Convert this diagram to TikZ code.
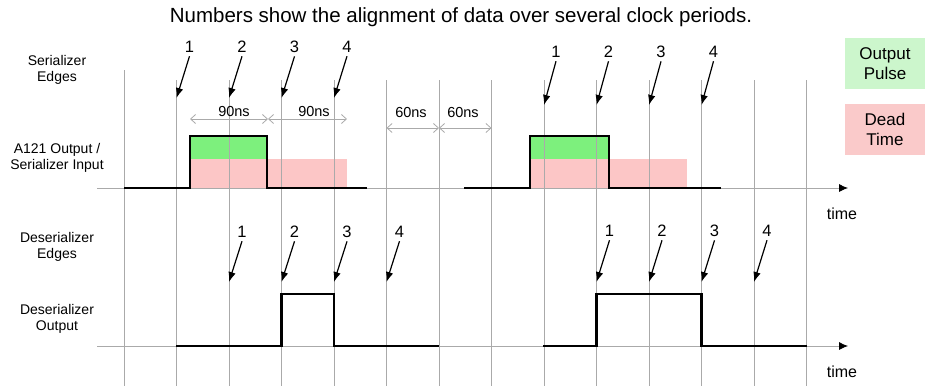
\documentclass[tikz,border=0pt]{standalone}
\usepackage{fontspec}
\setmainfont{Liberation Sans}
\usetikzlibrary{arrows.meta}
\definecolor{pulsegreen}{RGB}{125,240,125}
\definecolor{deadpink}{RGB}{252,198,198}
\definecolor{keygreen}{RGB}{204,246,204}
\definecolor{keypink}{RGB}{250,202,202}
\definecolor{gridgray}{RGB}{170,170,170}
\tikzset{
  gridline/.style={draw=gridgray, line width=0.8pt},
  timeaxis/.style={draw=gridgray, line width=0.8pt, -{Latex[black,length=9pt,width=8pt]}},
  signal/.style={line width=2.4pt, line join=miter},
  edgearrow/.style={line width=1.2pt, -{Latex[length=10pt,width=7.5pt]}},
  dimline/.style={draw=gridgray, line width=0.8pt,
    {Straight Barb[length=5pt,width=9pt]}-{Straight Barb[length=5pt,width=9pt]}},
  edgenum/.style={font=\fontsize{16.5}{18}\selectfont},
  rowlabel/.style={align=center, font=\fontsize{14}{16}\selectfont},
  nslabel/.style={font=\fontsize{14.5}{16}\selectfont},
  keybox/.style={align=center, minimum width=80pt, minimum height=51pt, font=\fontsize{17}{20}\selectfont},
}
\begin{document}
\begin{tikzpicture}[x=1pt,y=-1pt]
\useasboundingbox (0,0) rectangle (925,386);
% title and legend
\node[font=\fontsize{20.5}{24}\selectfont] (title) at (461,17) {Numbers show the alignment of data over several clock periods.};
\node[keybox, fill=keygreen] (pulsekey) at (885,63.5) {Output\\Pulse};
\node[keybox, fill=keypink]  (deadkey)  at (885,129)  {Dead\\Time};
% row labels
\node[rowlabel] (serlbl)  at (57,70)  {Serializer\\Edges};
\node[rowlabel] (a121lbl) at (57,158) {A121 Output /\\Serializer Input};
\node[rowlabel] (deslbl)  at (57,247) {Deserializer\\Edges};
\node[rowlabel] (outlbl)  at (57,319) {Deserializer\\Output};
% output pulse and dead time
\fill[deadpink]   (190,159) rectangle (347,188);
\fill[pulsegreen] (190,136) rectangle (267,159);
\fill[deadpink]   (530,159) rectangle (687,188);
\fill[pulsegreen] (530,136) rectangle (609,159);
% clock grid
\draw[gridline] (124,70) -- (124,386);
\foreach \x in {176.5,229,281.5,334,386.5,439,491.5,544,596.5,649,701.5,754,806.5}
  \draw[gridline] (\x,80) -- (\x,386);
\draw[timeaxis] (97,188) -- (848,188);
\draw[timeaxis] (97,346) -- (848,346);
\node[font=\fontsize{16}{18}\selectfont] (time1) at (842,214) {time};
\node[font=\fontsize{16}{18}\selectfont] (time2) at (842,372) {time};
% periods
\coordinate (d0) at (190,119);
\coordinate (d1) at (268,119);
\coordinate (d2) at (347,119);
\draw[dimline] (d0) -- (d1);
\draw[dimline] (d1) -- (d2);
\node[nslabel] (ns1) at (234,112) {90ns};
\node[nslabel] (ns2) at (314,112) {90ns};
\coordinate (d3) at (386.5,128);
\coordinate (d4) at (439,128);
\coordinate (d5) at (491.5,128);
\draw[dimline] (d3) -- (d4);
\draw[dimline] (d4) -- (d5);
\node[nslabel] (ns3) at (411,113) {60ns};
\node[nslabel] (ns4) at (463,113) {60ns};
% serializer edges
\foreach \n/\x in {1/176.5,2/229,3/281.5,4/334} {
  \coordinate (sa\n) at (\x,98);
  \node[edgenum] (sn\n) at (\x+13,47) {\n};
  \draw[edgearrow] (sn\n.south) -- (sa\n);
}
\foreach \n/\x in {1/544,2/596.5,3/649,4/701.5} {
  \coordinate (ta\n) at (\x,105);
  \node[edgenum] (tn\n) at (\x+12,52) {\n};
  \draw[edgearrow] (tn\n.south) -- (ta\n);
}
% deserializer edges
\foreach \n/\x in {1/229,2/281.5,3/334,4/386.5} {
  \coordinate (da\n) at (\x,282);
  \node[edgenum] (dn\n) at (\x+13,232) {\n};
  \draw[edgearrow] (dn\n.south) -- (da\n);
}
\foreach \n/\x in {1/596.5,2/649,3/701.5,4/754} {
  \coordinate (ea\n) at (\x,282);
  \node[edgenum] (en\n) at (\x+13,231) {\n};
  \draw[edgearrow] (en\n.south) -- (ea\n);
}
% signals
\draw[signal] (124,188) -- (190,188) -- (190,136) -- (267,136) -- (267,188) -- (367,188);
\draw[signal] (464,188) -- (530,188) -- (530,136) -- (609,136) -- (609,188) -- (721,188);
\draw[signal] (176,346) -- (281.5,346) -- (281.5,294) -- (334,294) -- (334,346) -- (439,346);
\draw[signal] (543,346) -- (596.5,346) -- (596.5,294) -- (701.5,294) -- (701.5,346) -- (806.5,346);
\end{tikzpicture}
\end{document}
